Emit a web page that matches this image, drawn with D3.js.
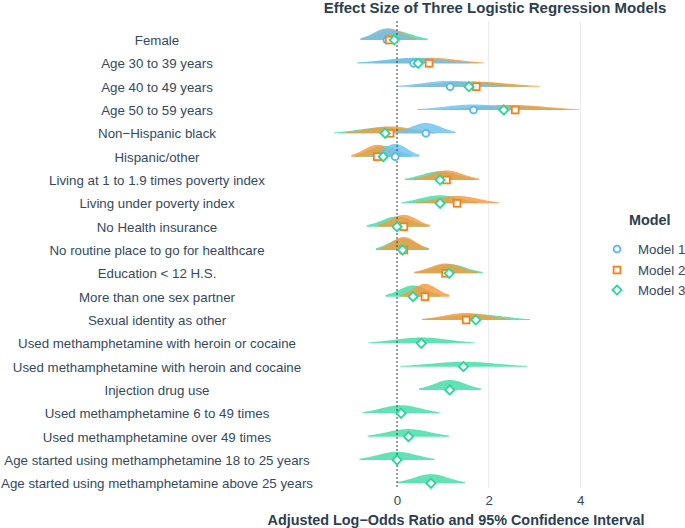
<!DOCTYPE html>
<html>
<head>
<meta charset="utf-8">
<script src="https://cdn.jsdelivr.net/npm/d3@7"></script>
<style>
  html, body { margin: 0; padding: 0; background: #fff; }
  svg { display: block; font-family: "Liberation Sans", Arial, Helvetica, sans-serif; }
</style>
</head>
<body>
<svg id="chart" width="685" height="528"></svg>
<script>
// ---------------- data ----------------
const labels = [
  "Female",
  "Age 30 to 39 years",
  "Age 40 to 49 years",
  "Age 50 to 59 years",
  "Non\u2212Hispanic black",
  "Hispanic/other",
  "Living at 1 to 1.9 times poverty index",
  "Living under poverty index",
  "No Health insurance",
  "No routine place to go for healthcare",
  "Education < 12 H.S.",
  "More than one sex partner",
  "Sexual identity as other",
  "Used methamphetamine with heroin or cocaine",
  "Used methamphetamine with heroin and cocaine",
  "Injection drug use",
  "Used methamphetamine 6 to 49 times",
  "Used methamphetamine over 49 times",
  "Age started using methamphetamine 18 to 25 years",
  "Age started using methamphetamine above 25 years"
];

const modelNames = ["Model 1", "Model 2", "Model 3"];

// Model 1: estimate and 95% CI (demographics only)
const m1Est = [-0.22, 0.36, 1.16, 1.67, 0.63, -0.04];
const m1Lo  = [-0.80, -0.86, 0.00, 0.44, -0.02, -0.57];
const m1Hi  = [ 0.36, 1.58, 2.32, 2.90, 1.28, 0.49];

// Model 2
const m2Est = [-0.17, 0.70, 1.73, 2.58, -0.15, -0.43, 1.08, 1.31, 0.15, 0.15, 1.06, 0.61, 1.51];
const m2Lo  = [-0.76, -0.50, 0.34, 1.18, -1.12, -1.00, 0.37, 0.40, -0.42, -0.37, 0.37, 0.08, 0.55];
const m2Hi  = [ 0.42, 1.90, 3.12, 3.98, 0.82, 0.14, 1.79, 2.22, 0.72, 0.67, 1.75, 1.14, 2.47];

// Model 3
const m3Est = [-0.06, 0.46, 1.57, 2.33, -0.26, -0.30, 0.94, 0.94, 0.00, 0.12, 1.14, 0.35, 1.72, 0.53, 1.45, 1.15, 0.09, 0.25, 0.00, 0.74];
const m3Lo  = [-0.79, -0.87, 0.27, 0.98, -1.37, -0.92, 0.17, 0.10, -0.66, -0.46, 0.41, -0.25, 0.54, -0.63, 0.07, 0.48, -0.75, -0.64, -0.82, 0.00];
const m3Hi  = [ 0.67, 1.79, 2.87, 3.68, 0.85, 0.32, 1.71, 1.78, 0.66, 0.70, 1.87, 0.95, 2.90, 1.70, 2.84, 1.83, 0.92, 1.14, 0.82, 1.48];

const xTicks = [0, 2, 4];

// ---------------- styles ----------------
const fillCol   = ["#6cc2f0", "#f59a3e", "#52e0ad"];
const fillOp    = [0.82, 0.82, 0.9];
const strokeCol = ["#56b6f4", "#fb7f17", "#27d89a"];
const textDark  = "#2c3e50";
const textMid   = "#34495e";
const labelSize = "13.3px";
const boldSize  = "14.4px";

// ---------------- build ----------------
const svg = d3.select("#chart");

const x = d3.scaleLinear().domain([0, 4]).range([397, 580.3]);
const y = d3.scalePoint().domain(labels).range([40, 483.3]);
const thick = d3.scaleLinear().domain([0, 1]).range([0, 8.6]); // density -> px

const panelTop = 21, panelBottom = 488;

// gridlines
svg.append("g").selectAll("line")
  .data(xTicks.filter(d => d !== 0))
  .join("line")
  .attr("x1", d => x(d)).attr("x2", d => x(d))
  .attr("y1", panelTop).attr("y2", panelBottom)
  .attr("stroke", "#ebebeb").attr("stroke-width", 1.1);

// assemble model records
function rows(est, lo, hi, m) {
  return est.map((e, i) => ({ label: labels[i], est: e, lo: lo[i], hi: hi[i], model: m }));
}
const models = [rows(m1Est, m1Lo, m1Hi, 0), rows(m2Est, m2Lo, m2Hi, 1), rows(m3Est, m3Lo, m3Hi, 2)];

function slabPoints(d) {
  const se = (d.hi - d.lo) / 3.92;
  const mu = (d.hi + d.lo) / 2;
  const n = 80;
  const pts = [];
  for (let k = 0; k <= n; k++) {
    const v = d.lo + (d.hi - d.lo) * k / n;
    const z = (v - mu) / se;
    pts.push({ v, dens: Math.exp(-0.5 * z * z) / (se * Math.sqrt(2 * Math.PI)) });
  }
  return pts;
}

// slabs: draw model 3, then 2, then 1 on top
const slabG = svg.append("g");
[2, 1, 0].forEach(m => {
  models[m].forEach(d => {
    const base = y(d.label);
    const area = d3.area()
      .x(p => x(p.v))
      .y0(base)
      .y1(p => base - thick(p.dens))
      .curve(d3.curveBasis);
    slabG.append("path")
      .datum(slabPoints(d))
      .attr("d", area)
      .attr("fill", fillCol[m])
      .attr("fill-opacity", fillOp[m]);
  });
});

// zero reference line
svg.append("line")
  .attr("x1", x(0)).attr("x2", x(0))
  .attr("y1", panelTop).attr("y2", panelBottom)
  .attr("stroke", "#222").attr("stroke-width", 0.9)
  .attr("stroke-dasharray", "2,2");

// markers
function marker(sel, m) {
  if (m === 0) {
    sel.append("circle").attr("r", 3.4);
  } else if (m === 1) {
    sel.append("rect").attr("x", -3.4).attr("y", -3.4).attr("width", 6.8).attr("height", 6.8);
  } else {
    sel.append("path").attr("d", "M0,-4.6L4.6,0L0,4.6L-4.6,0Z");
  }
  sel.selectAll("*")
    .attr("fill", "#fff")
    .attr("stroke", strokeCol[m])
    .attr("stroke-width", 1.8);
}
const markG = svg.append("g");
[0, 1, 2].forEach(m => {
  models[m].forEach(d => {
    const g = markG.append("g").attr("transform", `translate(${x(d.est)},${y(d.label)})`);
    marker(g, m);
  });
});

// y axis labels (centered)
const yAxis = svg.append("g")
  .attr("transform", "translate(157,0)")
  .call(d3.axisLeft(y).tickSize(0).tickPadding(0));
yAxis.select(".domain").remove();
yAxis.selectAll("text")
  .attr("text-anchor", "middle")
  .attr("x", 0)
  .attr("dy", "0.35em")
  .attr("fill", textMid)
  .style("font-size", labelSize)
  .style("font-family", "'Liberation Sans', Arial, sans-serif");

// x axis
const xAxis = svg.append("g")
  .attr("transform", `translate(0,${panelBottom})`)
  .call(d3.axisBottom(x).tickValues(xTicks).tickFormat(d3.format("d")).tickSize(0).tickPadding(8));
xAxis.select(".domain").remove();
xAxis.selectAll("text")
  .attr("fill", textMid)
  .style("font-size", labelSize)
  .style("font-family", "'Liberation Sans', Arial, sans-serif");

// titles
svg.append("text")
  .attr("x", 495).attr("y", 13)
  .attr("text-anchor", "middle")
  .attr("fill", textDark)
  .style("font-weight", "bold").style("font-size", "15px")
  .text("Effect Size of Three Logistic Regression Models");

svg.append("text")
  .attr("x", 456).attr("y", 524.5)
  .attr("text-anchor", "middle")
  .attr("fill", textDark)
  .style("font-weight", "bold").style("font-size", boldSize)
  .text("Adjusted Log\u2212Odds Ratio and 95% Confidence Interval");

// legend
const leg = svg.append("g");
leg.append("text")
  .attr("x", 629).attr("y", 225)
  .attr("fill", textDark)
  .style("font-weight", "bold").style("font-size", boldSize)
  .text("Model");
const legY = [249, 270, 290];
modelNames.forEach((name, m) => {
  const g = leg.append("g").attr("transform", `translate(617,${legY[m]})`);
  marker(g, m);
  leg.append("text")
    .attr("x", 638).attr("y", legY[m])
    .attr("dy", "0.36em")
    .attr("fill", textMid)
    .style("font-size", labelSize)
    .text(name);
});
</script>
</body>
</html>
